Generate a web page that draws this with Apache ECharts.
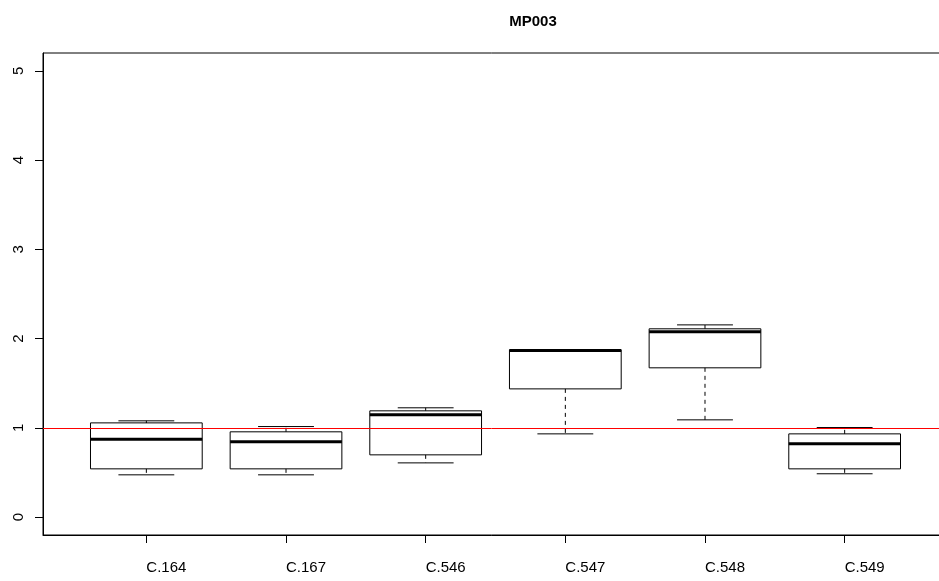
<!DOCTYPE html>
<html>
<head>
<meta charset="utf-8">
<title>MP003</title>
<script src="https://cdn.jsdelivr.net/npm/echarts@6/dist/echarts.min.js"></script>
<style>
  html, body { margin: 0; padding: 0; background: #fff; }
  #chart { width: 939px; height: 581px; }
</style>
</head>
<body>
<div id="chart"></div>
<script>
// Sample groups and their five-number summaries
const categories = ['C.164', 'C.167', 'C.546', 'C.547', 'C.548', 'C.549'];
const whiskerLow  = [0.474, 0.474, 0.608, 0.933, 1.090, 0.486];
const lowerQuart  = [0.541, 0.541, 0.698, 1.437, 1.673, 0.541];
const medians     = [0.874, 0.844, 1.146, 1.868, 2.076, 0.821];
const upperQuart  = [1.056, 0.956, 1.191, 1.875, 2.110, 0.933];
const whiskerHigh = [1.079, 1.015, 1.225, 1.875, 2.154, 1.004];
const yTicks = [0, 1, 2, 3, 4, 5];
const referenceLevel = 1;

const positions = categories.map((_, i) => i + 1);
const boxData = categories.map((_, i) => [
  positions[i], whiskerLow[i], lowerQuart[i], medians[i], upperQuart[i], whiskerHigh[i]
]);

const X_MIN = 0.26, X_MAX = 6.74;
const BOX_HALF = 0.4;     // half box width in axis units
const STAPLE_HALF = 0.2;  // half whisker-cap width
const plotRect = { left: 43, top: 53, width: 905, height: 482 };

function renderBox(params, api) {
  const x = api.value(0);
  const lw = api.value(1), q1 = api.value(2), md = api.value(3), q3 = api.value(4), uw = api.value(5);
  const pL = api.coord([x - BOX_HALF, q3]);
  const pR = api.coord([x + BOX_HALF, q1]);
  const c = api.coord([x, 0])[0];
  const sL = api.coord([x - STAPLE_HALF, 0])[0];
  const sR = api.coord([x + STAPLE_HALF, 0])[0];
  const yLw = api.coord([x, lw])[1];
  const yQ1 = api.coord([x, q1])[1];
  const yMd = api.coord([x, md])[1];
  const yQ3 = api.coord([x, q3])[1];
  const yUw = api.coord([x, uw])[1];
  const thin = { stroke: '#000', lineWidth: 1, fill: null };
  const dashed = { stroke: '#000', lineWidth: 1, lineDash: [4, 4] };
  const children = [
    { type: 'line', shape: { x1: c, y1: yQ1, x2: c, y2: yLw }, style: dashed },
    { type: 'line', shape: { x1: c, y1: yQ3, x2: c, y2: yUw }, style: dashed },
    { type: 'line', shape: { x1: sL, y1: yLw, x2: sR, y2: yLw }, style: thin },
    { type: 'line', shape: { x1: sL, y1: yUw, x2: sR, y2: yUw }, style: thin },
    { type: 'rect', shape: { x: pL[0], y: pL[1], width: pR[0] - pL[0], height: pR[1] - pL[1] },
      style: { stroke: '#000', lineWidth: 1, fill: 'rgba(0,0,0,0)' } },
    { type: 'line', shape: { x1: pL[0], y1: yMd, x2: pR[0], y2: yMd },
      style: { stroke: '#000', lineWidth: 3 } }
  ];
  return { type: 'group', children: children };
}

const chart = echarts.init(document.getElementById('chart'), null, { renderer: 'canvas' });

chart.setOption({
  animation: false,
  backgroundColor: '#fff',
  textStyle: { fontFamily: 'Liberation Sans, Arial, sans-serif' },
  title: {
    text: 'MP003',
    left: 528,
    top: 9,
    textAlign: 'center',
    textStyle: { fontFamily: 'Liberation Sans, Arial, sans-serif', fontWeight: 'bold', fontSize: 15, color: '#000' }
  },
  // the plotting frame runs on past the right edge of the canvas
  grid: Object.assign({ show: true, borderColor: '#000', borderWidth: 1, backgroundColor: 'transparent',
    outerBoundsMode: 'none', containLabel: false }, plotRect),
  xAxis: {
    type: 'value', min: X_MIN, max: X_MAX,
    position: 'bottom',
    splitLine: { show: false },
    axisLine: { show: true, onZero: false, lineStyle: { color: '#000', width: 1 } },
    axisTick: { show: true, inside: false, length: 8, customValues: positions, lineStyle: { color: '#000' } },
    axisLabel: {
      customValues: positions,
      margin: 25,
      fontSize: 15,
      align: 'left',
      color: '#000',
      formatter: v => categories[Math.round(v) - 1] || ''
    }
  },
  yAxis: {
    type: 'value', position: 'left',
    min: -0.2, max: 5.2,
    splitLine: { show: false },
    axisLine: { show: true, onZero: false, lineStyle: { color: '#000', width: 1 } },
    axisTick: { show: true, length: 8, customValues: yTicks, lineStyle: { color: '#000' } },
    axisLabel: {
      customValues: yTicks,
      rotate: 90,
      margin: 17,
      fontSize: 15,
      color: '#000',
      formatter: v => String(v)
    }
  },
  series: [
    {
      type: 'custom',
      renderItem: renderBox,
      data: boxData,
      z: 2,
      clip: false
    },
    {
      type: 'line',
      data: [],
      z: 5,
      markLine: {
        silent: true,
        symbol: 'none',
        label: { show: false },
        lineStyle: { color: '#ff0000', width: 1, type: 'solid' },
        data: [{ yAxis: referenceLevel }]
      }
    }
  ]
});
</script>
</body>
</html>
